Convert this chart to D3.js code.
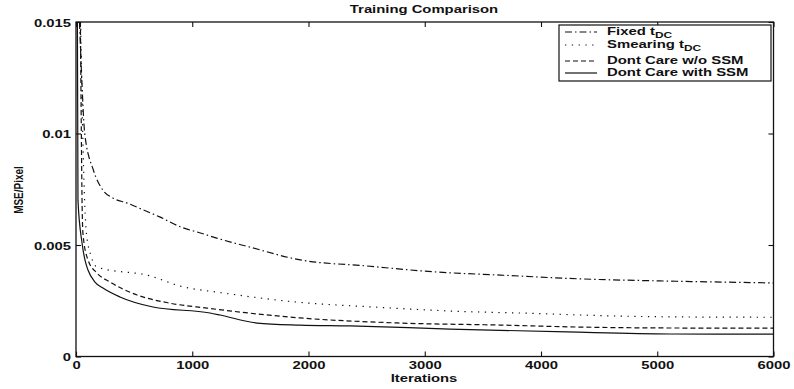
<!DOCTYPE html>
<html>
<head>
<meta charset="utf-8">
<script src="https://cdn.jsdelivr.net/npm/d3@7"></script>
<style>
  html, body { margin: 0; padding: 0; background: #fff; }
  svg { display: block; }
  text { font-family: "Liberation Sans", Arial, Helvetica, sans-serif; fill: #111; }
</style>
</head>
<body>
<svg id="chart" width="794" height="389"></svg>
<script>
// ---------- data (MSE/Pixel vs Iterations) ----------
const chartTitle = "Training Comparison";
const xLabel = "Iterations";
const yLabel = "MSE/Pixel";

const xTicks = [0, 1000, 2000, 3000, 4000, 5000, 6000];
const yTicks = [0, 0.005, 0.01, 0.015];
const yTickLabels = ["0", "0.005", "0.01", "0.015"];

const fixedIter = [30, 50, 75, 150, 230, 320, 440, 580, 720, 900, 1070, 1210, 1500, 1930, 2500, 3070, 3650, 4340, 5020, 6000];
const fixedVal  = [0.0150, 0.0124, 0.0100, 0.00835, 0.00747, 0.00710, 0.00688, 0.00657, 0.00626, 0.00581, 0.00554, 0.00531, 0.00490, 0.00433, 0.00406, 0.00380, 0.00365, 0.00348, 0.00339, 0.00330];

const smearIter = [40, 60, 90, 130, 180, 640, 895, 1265, 1900, 2555, 3220, 4080, 4340, 5310, 6000];
const smearVal  = [0.0150, 0.0095, 0.0055, 0.0045, 0.00401, 0.00361, 0.00316, 0.00285, 0.00244, 0.00222, 0.00204, 0.00191, 0.00186, 0.00177, 0.00176];

const dcNoIter = [38, 46, 52, 60, 103, 181, 292, 525, 809, 1127, 1927, 2787, 3647, 4335, 5024, 6000];
const dcNoVal  = [0.0150, 0.0100, 0.0070, 0.0055, 0.00433, 0.00374, 0.00334, 0.00276, 0.00239, 0.00217, 0.00173, 0.00150, 0.00141, 0.00132, 0.00128, 0.00127];

const dcSsmIter = [12, 17, 52, 77, 103, 163, 232, 378, 662, 1153, 1239, 1557, 1927, 2357, 3217, 4224, 5110, 6000];
const dcSsmVal  = [0.0150, 0.0070, 0.00509, 0.00433, 0.00388, 0.00334, 0.00307, 0.00267, 0.00222, 0.00195, 0.00186, 0.00150, 0.00141, 0.00137, 0.00123, 0.00110, 0.00101, 0.00100];

const seriesNames = ["Fixed t|DC", "Smearing t|DC", "Dont Care w/o SSM", "Dont Care with SSM"];
const seriesIters = [fixedIter, smearIter, dcNoIter, dcSsmIter];
const seriesVals  = [fixedVal, smearVal, dcNoVal, dcSsmVal];
const seriesDash  = ["7,3,1.5,3", "1.3,5.5", "5,3", null];

// ---------- layout ----------
const SX = 1.35; // horizontal stretch of glyphs seen in the scan
const margin = { left: 76, right: 794 - 773.5, top: 22, bottom: 389 - 356.5 };
const W = 794, H = 389;
const svg = d3.select("#chart");
svg.append("rect").attr("width", W).attr("height", H).attr("fill", "#fff");

const x = d3.scaleLinear().domain([0, 6000]).range([margin.left, W - margin.right]);
const y = d3.scaleLinear().domain([0, 0.015]).range([H - margin.bottom, margin.top]);

function addText(parent, str, tx, ty, size, anchor, weight, sx) {
  const t = parent.append("text")
    .attr("transform", `translate(${tx},${ty}) scale(${sx || SX},1)`)
    .attr("font-size", size)
    .attr("font-weight", weight || "bold")
    .attr("text-anchor", anchor || "start");
  const parts = str.split("|");
  t.append("tspan").text(parts[0]);
  if (parts[1]) t.append("tspan").attr("dy", 3).attr("font-size", size * 0.8).text(parts[1]);
  return t;
}

// ---------- axes ----------
const xAxisB = d3.axisBottom(x).tickValues(xTicks).tickFormat(d3.format("d")).tickSizeInner(-5).tickSizeOuter(0).tickPadding(0);
const xAxisT = d3.axisTop(x).tickValues(xTicks).tickFormat("").tickSizeInner(-5).tickSizeOuter(0);
const yAxisL = d3.axisLeft(y).tickValues(yTicks).tickFormat((d, i) => yTickLabels[i]).tickSizeInner(-5).tickSizeOuter(0).tickPadding(0);
const yAxisR = d3.axisRight(y).tickValues(yTicks).tickFormat("").tickSizeInner(-5).tickSizeOuter(0);

const gB = svg.append("g").attr("transform", `translate(0,${y(0)})`).call(xAxisB);
const gT = svg.append("g").attr("transform", `translate(0,${y(0.015)})`).call(xAxisT);
const gL = svg.append("g").attr("transform", `translate(${x(0)},0)`).call(yAxisL);
const gR = svg.append("g").attr("transform", `translate(${x(6000)},0)`).call(yAxisR);
[gB, gT, gL, gR].forEach(g => {
  g.select(".domain").remove();
  g.selectAll(".tick line").attr("stroke", "#111").attr("stroke-width", 1.1);
});
gB.selectAll(".tick text")
  .attr("y", null).attr("dy", null)
  .attr("font-size", 11).attr("font-weight", "bold")
  .attr("font-family", "Liberation Sans, Arial, sans-serif").attr("fill", "#111")
  .attr("transform", `translate(0,12.5) scale(${SX},1)`);
gL.selectAll(".tick text")
  .attr("x", null).attr("dy", null)
  .attr("font-size", 11).attr("font-weight", "bold")
  .attr("font-family", "Liberation Sans, Arial, sans-serif").attr("fill", "#111")
  .attr("transform", `translate(-5,4) scale(${SX},1)`);

// plot frame
svg.append("rect")
  .attr("x", x(0)).attr("y", y(0.015))
  .attr("width", x(6000) - x(0)).attr("height", y(0) - y(0.015))
  .attr("fill", "none").attr("stroke", "#111").attr("stroke-width", 1.3);

// ---------- lines ----------
svg.append("clipPath").attr("id", "clip").append("rect")
  .attr("x", x(0)).attr("y", y(0.015)).attr("width", x(6000) - x(0)).attr("height", y(0) - y(0.015));
const line = d3.line().x(d => x(d[0])).y(d => y(d[1])).curve(d3.curveMonotoneX);
const plot = svg.append("g").attr("clip-path", "url(#clip)");
seriesNames.forEach((name, i) => {
  const pts = seriesIters[i].map((it, j) => [it, seriesVals[i][j]]);
  plot.append("path")
    .datum(pts)
    .attr("d", line)
    .attr("fill", "none")
    .attr("stroke", "#111")
    .attr("stroke-width", 1.2)
    .attr("stroke-dasharray", seriesDash[i]);
});

// ---------- legend ----------
const lg = svg.append("g");
const legX0 = 559, legY0 = 25, legX1 = 771, legY1 = 81;
lg.append("rect").attr("x", legX0).attr("y", legY0).attr("width", legX1 - legX0).attr("height", legY1 - legY0)
  .attr("fill", "#fff").attr("stroke", "#111").attr("stroke-width", 1.2);
const legTextY = [34.5, 48, 64, 76];
const legLineY = [32, 45, 61, 73];
seriesNames.forEach((name, i) => {
  lg.append("line").attr("x1", 565).attr("x2", 597).attr("y1", legLineY[i]).attr("y2", legLineY[i])
    .attr("stroke", "#111").attr("stroke-width", 1.2).attr("stroke-dasharray", seriesDash[i]);
  addText(lg, name, 607, legTextY[i], 10.5, "start", "bold", 1.42);
});

// ---------- titles ----------
addText(svg, chartTitle, 424, 13, 11, "middle");
addText(svg, xLabel, 424, 382, 11, "middle");
svg.append("text")
  .attr("transform", `translate(23,190) rotate(-90) scale(1,${SX})`)
  .attr("font-size", 10).attr("font-weight", "bold")
  .attr("text-anchor", "middle")
  .text(yLabel);
</script>
</body>
</html>
